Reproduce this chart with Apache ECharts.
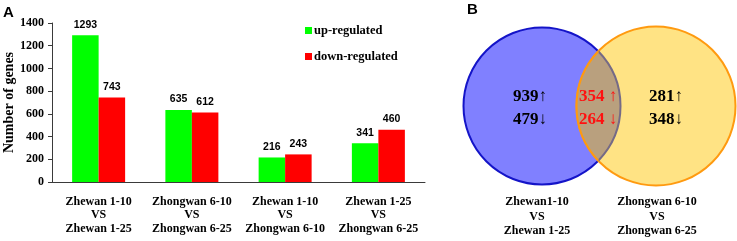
<!DOCTYPE html>
<html><head><meta charset="utf-8">
<script src="https://cdn.jsdelivr.net/npm/echarts@6/dist/echarts.min.js"></script>
<style>html,body{margin:0;padding:0;background:#fff}#c{width:737px;height:241px}</style>
</head><body><div id="c"></div>
<script>
// ---- data ----
var categories = ['Zhewan 1-10\nVS\nZhewan 1-25', 'Zhongwan 6-10\nVS\nZhongwan 6-25', 'Zhewan 1-10\nVS\nZhongwan 6-10', 'Zhewan 1-25\nVS\nZhongwan 6-25'];
var upRegulated = [1293, 635, 216, 341];
var downRegulated = [743, 612, 243, 460];
var seriesNames = ['up-regulated', 'down-regulated'];
var yTicks = [0, 200, 400, 600, 800, 1000, 1200, 1400];
var yTitle = 'Number of genes';
var vennSetLabels = ['Zhewan1-10\nVS\nZhewan 1-25', 'Zhongwan 6-10\nVS\nZhongwan 6-25'];
var vennUp = [939, 354, 281];     // only set1, shared, only set2
var vennDown = [479, 264, 348];
var panelLabels = ['A', 'B'];

// ---- layout (pixel units of the venn grid) ----
var L = { c1: [542, 106, 78.5], c2: [656, 106, 79.5], upY: 97, downY: 120, labelX: [537, 657], labelY: 202 };

var serif = "'Liberation Serif', 'Times New Roman', serif";
var sans = "'Liberation Sans', Arial, sans-serif";

var chart = echarts.init(document.getElementById('c'), null, { renderer: 'canvas' });

function vennRender(params, api) {
  var p1 = api.coord([L.c1[0], L.c1[1]]), p2 = api.coord([L.c2[0], L.c2[1]]);
  var r1 = api.size([L.c1[2], 0])[0], r2 = api.size([L.c2[2], 0])[0];
  var d = p2[0] - p1[0];
  var a = (d * d + r1 * r1 - r2 * r2) / (2 * d);
  var h = Math.sqrt(r1 * r1 - a * a);
  var ix = p1[0] + a, top = p1[1] - h, bot = p1[1] + h;
  var rightArc = 'M' + ix + ' ' + top + ' A' + r1 + ' ' + r1 + ' 0 0 1 ' + ix + ' ' + bot;
  var leftArc = 'M' + ix + ' ' + bot + ' A' + r2 + ' ' + r2 + ' 0 0 1 ' + ix + ' ' + top;
  var lens = rightArc + ' A' + r2 + ' ' + r2 + ' 0 0 1 ' + ix + ' ' + top + ' Z';
  var kids = [
    { type: 'circle', shape: { cx: p1[0], cy: p1[1], r: r1 }, style: { fill: '#8080ff', stroke: '#1414c8', lineWidth: 2 } },
    { type: 'circle', shape: { cx: p2[0], cy: p2[1], r: r2 }, style: { fill: '#ffe384', stroke: '#ff9a10', lineWidth: 2 } },
    { type: 'path', shape: { pathData: lens }, style: { fill: '#b9a07e', stroke: null } },
    { type: 'path', shape: { pathData: rightArc }, style: { fill: null, stroke: '#756a86', lineWidth: 2 } },
    { type: 'path', shape: { pathData: leftArc }, style: { fill: null, stroke: '#ff9a10', lineWidth: 2 } }
  ];
  var xs = [530, 598, 666];
  for (var i = 0; i < 3; i++) {
    var sep = i === 1 ? ' ' : '';
    var col = i === 1 ? '#ff1010' : '#000';
    var pu = api.coord([xs[i], L.upY]), pd = api.coord([xs[i], L.downY]);
    kids.push({ type: 'text', style: { text: vennUp[i] + sep + '\u2191', x: pu[0], y: pu[1], fill: col, fontFamily: serif, fontWeight: 'bold', fontSize: 17, align: 'center', verticalAlign: 'middle' } });
    kids.push({ type: 'text', style: { text: vennDown[i] + sep + '\u2193', x: pd[0], y: pd[1], fill: col, fontFamily: serif, fontWeight: 'bold', fontSize: 17, align: 'center', verticalAlign: 'middle' } });
  }
  for (var j = 0; j < 2; j++) {
    var pl = api.coord([L.labelX[j], L.labelY - 7]);
    kids.push({ type: 'text', style: { text: vennSetLabels[j], x: pl[0], y: pl[1], fill: '#000', fontFamily: serif, fontWeight: 'bold', fontSize: 12, align: 'center', verticalAlign: 'top', lineHeight: 14.5 } });
  }
  return { type: 'group', children: kids };
}

chart.setOption({
  animation: false,
  textStyle: { fontFamily: serif },
  title: [
    { text: panelLabels[0], left: -2, top: 0, textStyle: { fontFamily: sans, fontWeight: 'bold', fontSize: 15, color: '#000' } },
    { text: panelLabels[1], left: 462, top: -3, textStyle: { fontFamily: sans, fontWeight: 'bold', fontSize: 15, color: '#000' } }
  ],
  legend: {
    data: seriesNames, orient: 'vertical', left: 300, top: 19, itemWidth: 7, itemHeight: 7, itemGap: 13,
    icon: 'rect', textStyle: { fontFamily: serif, fontWeight: 'bold', fontSize: 12.5, color: '#000', padding: [0, 0, 0, -3] }
  },
  grid: [
    { left: 52, top: 23, width: 373, height: 159, outerBoundsMode: 'none', containLabel: false },
    { left: 440, top: 0, width: 297, height: 241, outerBoundsMode: 'none', containLabel: false }
  ],
  xAxis: [
    { type: 'category', gridIndex: 0, data: categories,
      axisLine: { lineStyle: { color: '#3a3a3a', width: 1 } },
      axisTick: { alignWithLabel: true, length: 4, lineStyle: { color: '#3a3a3a' } },
      axisLabel: { fontFamily: serif, fontWeight: 'bold', fontSize: 12, color: '#000', margin: 13, lineHeight: 13.5, interval: 0 } },
    { type: 'value', gridIndex: 1, min: 440, max: 737, show: false }
  ],
  yAxis: [
    { type: 'value', gridIndex: 0, min: yTicks[0], max: yTicks[yTicks.length - 1], interval: yTicks[1] - yTicks[0],
      name: yTitle, nameLocation: 'middle', nameGap: 36, nameRotate: 90, nameMoveOverlap: false,
      nameTextStyle: { fontFamily: serif, fontWeight: 'bold', fontSize: 14, color: '#000' },
      axisLine: { show: true, lineStyle: { color: '#3a3a3a', width: 1 } },
      axisTick: { show: true, length: 4, lineStyle: { color: '#3a3a3a' } },
      splitLine: { show: false },
      axisLabel: { fontFamily: serif, fontWeight: 'bold', fontSize: 12, color: '#000', margin: 8, formatter: function (v) { return String(v); } } },
    { type: 'value', gridIndex: 1, min: 0, max: 241, inverse: true, show: false }
  ],
  series: [
    { name: seriesNames[0], type: 'bar', xAxisIndex: 0, yAxisIndex: 0, data: upRegulated, barWidth: 26.5, barGap: '0%',
      itemStyle: { color: '#00ff00' },
      label: { show: true, position: 'top', distance: 5, fontFamily: sans, fontWeight: 'bold', fontSize: 10.5, color: '#000' } },
    { name: seriesNames[1], type: 'bar', xAxisIndex: 0, yAxisIndex: 0, data: downRegulated, barWidth: 26.5, barGap: '0%',
      itemStyle: { color: '#ff0000' },
      label: { show: true, position: 'top', distance: 5, fontFamily: sans, fontWeight: 'bold', fontSize: 10.5, color: '#000' } },
    { type: 'custom', xAxisIndex: 1, yAxisIndex: 1, data: [[0, 0]], clip: false, renderItem: vennRender, silent: true }
  ]
});
</script>
</body></html>
